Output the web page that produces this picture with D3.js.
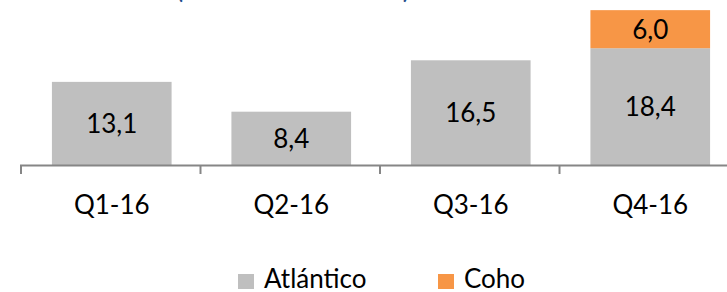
<!DOCTYPE html>
<html>
<head>
<meta charset="utf-8">
<script src="https://cdn.jsdelivr.net/npm/d3@7"></script>
<style>
  body { margin: 0; background: #fff; }
  svg text { font-family: Lato, "Open Sans", sans-serif; }
</style>
</head>
<body>
<div id="chart"></div>
<script>
// Data
const quarters = ['Q1-16', 'Q2-16', 'Q3-16', 'Q4-16'];
const atlantico = [13.1, 8.4, 16.5, 18.4];
const coho = [0, 0, 0, 6.0];
const seriesNames = ['Atlántico', 'Coho'];
const seriesColors = ['#BFBFBF', '#F79646'];
const titleText = '(Miles de toneladas WFE)';

const width = 727, height = 292;

const svg = d3.select('#chart')
    .append('svg')
    .attr('width', width)
    .attr('height', height);

// title is cut off at the top, only the bottom of the brackets shows
svg.append('text')
    .attr('x', 293)
    .attr('y', -1)
    .attr('text-anchor', 'middle')
    .attr('font-size', 20.5)
    .attr('font-weight', 'bold')
    .attr('fill', '#1F4E8C')
    .text(titleText);

const table = quarters.map((q, i) => ({ q: q, Atlántico: atlantico[i], Coho: coho[i] }));
const stack = d3.stack().keys(seriesNames)(table);

const x = d3.scaleBand()
    .domain(quarters)
    .range([21, 741])
    .paddingInner(1 / 3)
    .paddingOuter(31 / 180);

const y = d3.scaleLinear()
    .domain([0, 26])
    .range([165, 0]);

// bars
const layers = svg.selectAll('g.layer')
    .data(stack)
    .enter()
    .append('g')
    .attr('class', 'layer')
    .attr('fill', (d, i) => seriesColors[i]);

layers.selectAll('rect')
    .data(d => d.filter(s => s[1] - s[0] > 0))
    .enter()
    .append('rect')
    .attr('x', d => x(d.data.q))
    .attr('y', d => y(d[1]))
    .attr('width', x.bandwidth())
    .attr('height', d => y(d[0]) - y(d[1]));

// value labels
layers.selectAll('text')
    .data(d => d.filter(s => s[1] - s[0] > 0))
    .enter()
    .append('text')
    .attr('x', d => x(d.data.q) + x.bandwidth() / 2)
    .attr('y', d => (y(d[0]) + y(d[1])) / 2)
    .attr('dy', '0.36em')
    .attr('text-anchor', 'middle')
    .attr('font-size', 26)
    .attr('fill', '#000')
    .text(d => d3.format('.1f')(d[1] - d[0]).replace('.', ','));

// x axis: line with ticks on band boundaries
const step = x.step();
const axis = svg.append('g');
axis.append('line')
    .attr('x1', 20).attr('x2', 727)
    .attr('y1', 165.5).attr('y2', 165.5)
    .attr('stroke', '#868686')
    .attr('stroke-width', 2);

axis.selectAll('line.tick')
    .data(quarters)
    .enter()
    .append('line')
    .attr('class', 'tick')
    .attr('x1', (d, i) => 21 + i * step)
    .attr('x2', (d, i) => 21 + i * step)
    .attr('y1', 165)
    .attr('y2', 174)
    .attr('stroke', '#868686')
    .attr('stroke-width', 2);

axis.selectAll('text')
    .data(quarters)
    .enter()
    .append('text')
    .attr('x', d => x(d) + x.bandwidth() / 2)
    .attr('y', 214)
    .attr('text-anchor', 'middle')
    .attr('font-size', 26)
    .attr('fill', '#000')
    .text(d => d);

// legend
const legendX = [238, 438];
const legend = svg.selectAll('g.legend')
    .data(seriesNames)
    .enter()
    .append('g')
    .attr('class', 'legend')
    .attr('transform', (d, i) => `translate(${legendX[i]},274)`);

legend.append('rect')
    .attr('width', 16)
    .attr('height', 15)
    .attr('fill', (d, i) => seriesColors[i]);

legend.append('text')
    .attr('x', 26)
    .attr('y', 14)
    .attr('font-size', 26)
    .attr('fill', '#000')
    .text(d => d);
</script>
</body>
</html>
